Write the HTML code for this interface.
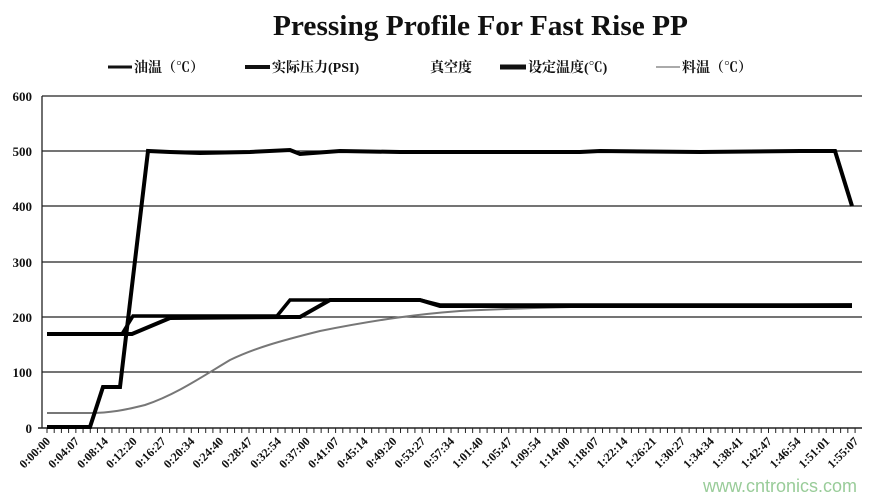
<!DOCTYPE html>
<html><head><meta charset="utf-8"><style>
body{margin:0;background:#fff;}
svg{display:block;font-family:"Liberation Serif","Noto Serif CJK SC",serif;}
</style></head><body>
<svg width="879" height="499" viewBox="0 0 879 499">
<text x="273" y="35" font-size="28" font-weight="bold" fill="#111" textLength="415" lengthAdjust="spacingAndGlyphs">Pressing  Profile  For Fast Rise PP</text>
<g font-size="14" font-weight="bold" fill="#111">
<line x1="108" y1="67" x2="132" y2="67" stroke="#111" stroke-width="3"/><text x="134" y="72">油温（℃）</text>
<line x1="245" y1="67" x2="270" y2="67" stroke="#111" stroke-width="4"/><text x="272" y="72">实际压力(PSI)</text>
<text x="430" y="72">真空度</text>
<line x1="500" y1="67" x2="526" y2="67" stroke="#111" stroke-width="5"/><text x="528" y="72">设定温度(℃)</text>
<line x1="656" y1="67" x2="680" y2="67" stroke="#aaa" stroke-width="2"/><text x="682" y="72">料温（℃）</text>
</g>
<g stroke="#222" stroke-width="1.3">
<line x1="42" y1="96" x2="862" y2="96"/><line x1="42" y1="151" x2="862" y2="151"/>
<line x1="42" y1="206" x2="862" y2="206"/><line x1="42" y1="262" x2="862" y2="262"/>
<line x1="42" y1="317" x2="862" y2="317"/><line x1="42" y1="372" x2="862" y2="372"/>
<line x1="38" y1="428" x2="862" y2="428" stroke-width="1.5"/>
<line x1="42" y1="96" x2="42" y2="428"/>
</g>
<g font-size="13" font-weight="bold" fill="#111" text-anchor="end">
<text x="32" y="101">600</text><text x="32" y="156">500</text><text x="32" y="211">400</text>
<text x="32" y="267">300</text><text x="32" y="322">200</text><text x="32" y="377">100</text><text x="32" y="433">0</text>
</g>
<g id="ticks" stroke="#222" stroke-width="1"></g>
<g id="lbl" font-size="12" font-weight="bold" fill="#111"></g>
<path fill="none" stroke="#777" stroke-width="2" d="M47,413 L90,413 C110,413 125,410 145,405 C175,395 200,378 230,360 C255,348 280,341 320,331 C380,319 420,314 460,311 C520,308 560,307 620,306 L852,304"/>
<polyline fill="none" stroke="#000" stroke-width="4" points="47,334 132,334 170,318 290,317 300,317 330,300 420,300 440,306 852,306"/>
<polyline fill="none" stroke="#000" stroke-width="3.5" points="47,334 122,334 133,316 277,316 290,300 420,300 440,305 852,305"/>
<polyline fill="none" stroke="#000" stroke-width="4" points="47,427 90,427 103,387 120,387 148,151 170,152 200,153 250,152 290,150 300,154 340,151 400,152 500,152 580,152 600,151 700,152 800,151 835,151 852,206"/>
<text x="857" y="492" text-anchor="end" font-family="Liberation Sans,sans-serif" font-size="18" fill="#9c9">www.cntronics.com</text>
</svg>
<script>
var labs="0:00:00 0:04:07 0:08:14 0:12:20 0:16:27 0:20:34 0:24:40 0:28:47 0:32:54 0:37:00 0:41:07 0:45:14 0:49:20 0:53:27 0:57:34 1:01:40 1:05:47 1:09:54 1:14:00 1:18:07 1:22:14 1:26:21 1:30:27 1:34:34 1:38:41 1:42:47 1:46:54 1:51:01 1:55:07".split(" ");
var t=document.getElementById("ticks"),l=document.getElementById("lbl"),ns="http://www.w3.org/2000/svg";
for(var i=0;i<labs.length;i++){var x=47+i*28.86;
for(var k=0;k<4;k++){var xx=x+k*7.2;if(xx>862)break;var ln=document.createElementNS(ns,"line");ln.setAttribute("x1",xx);ln.setAttribute("x2",xx);ln.setAttribute("y1",428);ln.setAttribute("y2",433);t.appendChild(ln);}
var tx=document.createElementNS(ns,"text");tx.setAttribute("x",x+4);tx.setAttribute("y",442);tx.setAttribute("text-anchor","end");tx.setAttribute("transform","rotate(-45 "+(x+4)+" 442)");tx.textContent=labs[i];l.appendChild(tx);}
</script>
</body></html>
